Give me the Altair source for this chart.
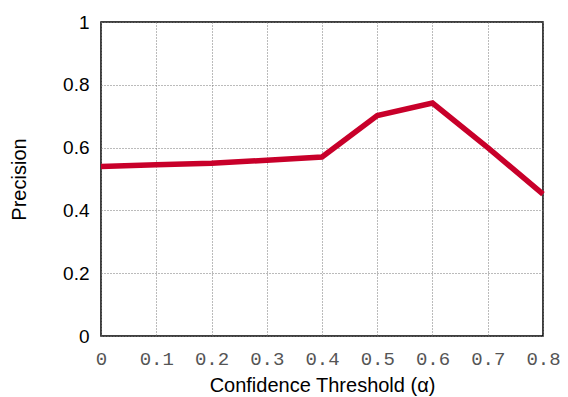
import altair as alt
import pandas as pd

thresholds = [0.0, 0.1, 0.2, 0.3, 0.4, 0.5, 0.6, 0.7, 0.8]
precision = [0.540, 0.545, 0.550, 0.560, 0.570, 0.702, 0.742, 0.600, 0.452]

df = pd.DataFrame({"alpha": thresholds, "precision": precision})

chart = alt.Chart(df).mark_line(color="#c8002a", strokeWidth=5.5, strokeJoin="miter").encode(
    x=alt.X("alpha:Q", scale=alt.Scale(domain=[0, 0.8], nice=False),
            axis=alt.Axis(title="Confidence Threshold (\u03b1)", values=[0, 0.1, 0.2, 0.3, 0.4, 0.5, 0.6, 0.7, 0.8],
                          format="~g", labelFont="Liberation Mono", labelFontSize=19, labelColor="#555555",
                          labelPadding=13, titlePadding=7, ticks=False, domain=False,
                          labelFlush=False)),
    y=alt.Y("precision:Q", scale=alt.Scale(domain=[0, 1], nice=False),
            axis=alt.Axis(title="Precision", values=[0, 0.2, 0.4, 0.6, 0.8, 1], format="~g",
                          labelFont="Liberation Sans", labelFontSize=19, labelColor="#000000",
                          labelPadding=12, titlePadding=33, ticks=False, domain=False,
                          labelFlush=False)),
).properties(
    width=442, height=314,
    background="white",
    autosize=alt.AutoSizeParams(type="none"),
    padding={"left": 93, "top": 14, "right": 17, "bottom": 60},
).configure_view(
    stroke="#000000", strokeWidth=1.5
).configure_axis(
    grid=True, gridColor="#777777", gridDash=[1, 2], gridWidth=1,
    titleFont="Liberation Sans", titleFontSize=20, titleFontWeight="normal", titleColor="#000000",
)

chart.save("out.html", embed_options={"renderer": "svg", "actions": False})
